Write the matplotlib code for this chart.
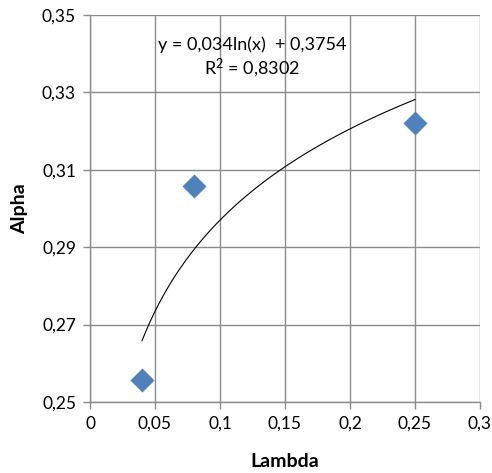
import numpy as np
import matplotlib
matplotlib.use("Agg")
import matplotlib.pyplot as plt
from matplotlib.ticker import FuncFormatter

lam = [0.04, 0.08, 0.25]
alpha = [0.2557, 0.3057, 0.3220]
x_ticks = [0, 0.05, 0.1, 0.15, 0.2, 0.25, 0.3]
y_ticks = [0.25, 0.27, 0.29, 0.31, 0.33, 0.35]
eq_text = "y = 0,034ln(x)  + 0,3754"
r2_text = "R$^{2}$ = 0,8302"

plt.rcParams['font.family'] = ['Lato', 'DejaVu Sans']
plt.rcParams['mathtext.fontset'] = 'custom'
plt.rcParams['mathtext.rm'] = 'Lato'
plt.rcParams['mathtext.it'] = 'Lato'
plt.rcParams['mathtext.default'] = 'regular'

fig = plt.figure(figsize=(4.92, 4.73), dpi=100)
ax = fig.add_axes([90/492, 1-402/473, 390/492, 387/473])

# trendline: logarithmic fit
b, a = np.polyfit(np.log(lam), alpha, 1)
xs = np.linspace(min(lam), max(lam), 200)
ax.plot(xs, a + b*np.log(xs), color='black', lw=0.8, zorder=2)

ax.scatter(lam, alpha, marker='D', s=150, color='#4F81BD', zorder=3, linewidths=0)

ax.set_xlim(0, 0.3)
ax.set_ylim(0.25, 0.35)
ax.set_xticks(x_ticks)
ax.set_yticks(y_ticks)
fmt = lambda v, p: (f"{v:.2f}".rstrip('0').rstrip('.') if v != 0 else "0").replace('.', ',')
ax.xaxis.set_major_formatter(FuncFormatter(fmt))
ax.yaxis.set_major_formatter(FuncFormatter(lambda v, p: f"{v:.2f}".replace('.', ',')))
ax.grid(True, color='#8c8c8c', lw=1)
ax.set_axisbelow(True)
for s in ['top', 'right']:
    ax.spines[s].set_visible(False)
for s in ['left', 'bottom']:
    ax.spines[s].set_color('#8c8c8c')
    ax.spines[s].set_linewidth(1)
ax.tick_params(axis='both', length=5, width=1, color='#8c8c8c', labelsize=12.5, pad=5)

ax.set_xlabel("Lambda", fontsize=14, fontweight='bold', labelpad=15)
ax.set_ylabel("Alpha", fontsize=14, fontweight='bold', labelpad=10)

ax.text(0.415, 0.922, eq_text, transform=ax.transAxes, ha='center', va='center', fontsize=13)
ax.text(0.415, 0.863, r2_text, transform=ax.transAxes, ha='center', va='center', fontsize=13)

fig.savefig("out.png", dpi=100)
